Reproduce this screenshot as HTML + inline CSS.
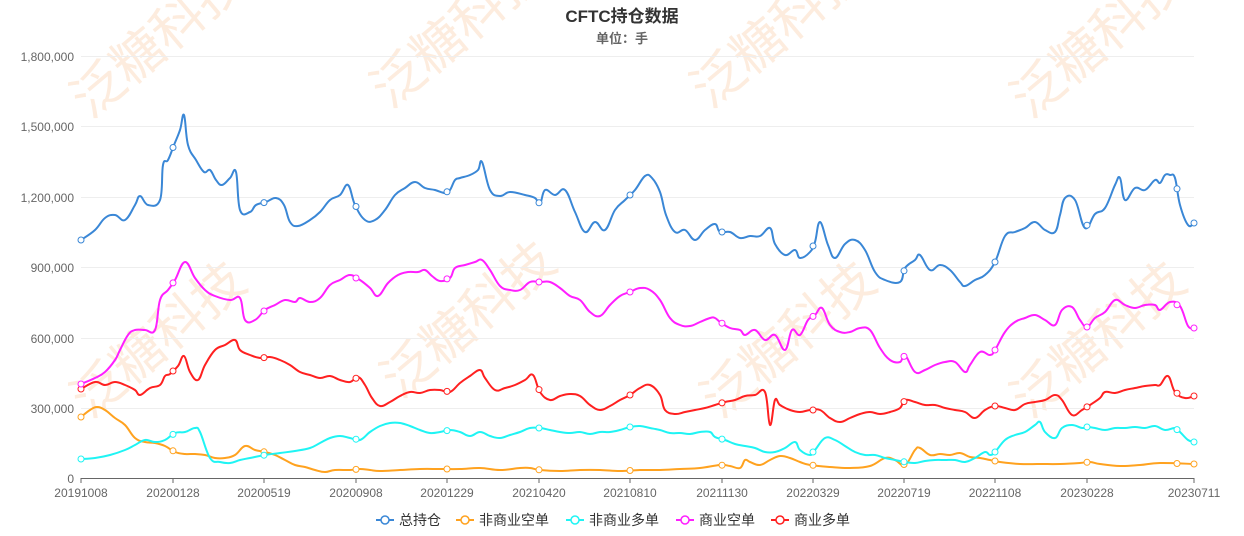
<!DOCTYPE html>
<html><head><meta charset="utf-8"><style>
body{margin:0;background:#fff;}
svg{display:block;font-family:"Liberation Sans","Noto Sans CJK SC",sans-serif;}
</style></head><body>
<svg id="s" width="1244" height="536" viewBox="0 0 1244 536">
<g fill="#f9c9a0" opacity="0.35" font-size="52" font-family="'Noto Sans CJK SC',sans-serif">
<text transform="translate(90,120) rotate(-40)">泛糖科技</text>
<text transform="translate(390,110) rotate(-40)">泛糖科技</text>
<text transform="translate(710,110) rotate(-40)">泛糖科技</text>
<text transform="translate(1030,120) rotate(-40)">泛糖科技</text>
<text transform="translate(90,420) rotate(-40)">泛糖科技</text>
<text transform="translate(400,400) rotate(-40)">泛糖科技</text>
<text transform="translate(720,420) rotate(-40)">泛糖科技</text>
<text transform="translate(1030,420) rotate(-40)">泛糖科技</text>
</g>
<text x="622" y="22" text-anchor="middle" font-size="17" font-weight="bold" fill="#333">CFTC持仓数据</text>
<text x="622" y="43" text-anchor="middle" font-size="13" font-weight="bold" fill="#666">单位：手</text>
<g stroke="#eee" stroke-width="1">
<line x1="81" x2="1194" y1="56.5" y2="56.5"/><line x1="81" x2="1194" y1="126.5" y2="126.5"/><line x1="81" x2="1194" y1="197.5" y2="197.5"/><line x1="81" x2="1194" y1="267.5" y2="267.5"/><line x1="81" x2="1194" y1="338.5" y2="338.5"/><line x1="81" x2="1194" y1="408.5" y2="408.5"/>
</g>
<line x1="81" x2="1194" y1="478.5" y2="478.5" stroke="#666"/>
<g font-size="12" fill="#666" text-anchor="end">
<text x="74" y="61">1,800,000</text><text x="74" y="131">1,500,000</text><text x="74" y="202">1,200,000</text><text x="74" y="272">900,000</text><text x="74" y="343">600,000</text><text x="74" y="413">300,000</text><text x="74" y="483">0</text>
</g>
<g id="xl" font-size="12" fill="#666" text-anchor="middle"></g>
<g id="series"></g>
<g font-size="14" fill="#333" id="leg"></g>
</svg>
<script>
const NS="http://www.w3.org/2000/svg";
const ticks=[[81,"20191008"],[173,"20200128"],[264,"20200519"],[356,"20200908"],[447,"20201229"],[539,"20210420"],[630,"20210810"],[722,"20211130"],[813,"20220329"],[904,"20220719"],[995,"20221108"],[1087,"20230228"],[1194,"20230711"]];
const xl=document.getElementById("xl");
ticks.forEach(t=>{const e=document.createElementNS(NS,"text");e.setAttribute("x",t[0]);e.setAttribute("y",497);e.textContent=t[1];xl.appendChild(e);
const l=document.createElementNS(NS,"line");l.setAttribute("x1",t[0]);l.setAttribute("x2",t[0]);l.setAttribute("y1",478);l.setAttribute("y2",483);l.setAttribute("stroke","#666");xl.appendChild(l);});
function P(s){const a=s.trim().split(/;\s*/).map(p=>p.split(",").map(Number));return a;}
const data={
"#3a87d6":P("81,240;95,230;105,218;115,215;125,220;135,205;140,196;148,205;160,200;163,165;168,160;174,145;180,130;184,115;188,145;196,160;204,172;210,170;216,180;222,185;230,178;236,172;240,210;250,212;256,205;266,202;276,198;284,205;290,222;298,226;310,220;320,212;330,200;340,195;348,185;355,205;365,220;375,220;385,210;395,195;405,188;415,182;425,188;435,190;445,193;450,190;455,180;460,178;470,175;478,170;482,162;490,190;500,196;510,192;525,195;535,198;540,204;545,190;555,195;565,190;575,212;585,232;595,222;605,230;615,210;625,200;635,190;645,176;652,178;660,192;666,215;675,232;685,230;695,240;705,230;715,224;720,232;730,232;740,238;750,236;760,236;770,228;775,244;785,255;795,250;800,258;810,252;815,242;820,222;828,245;835,258;845,244;855,240;865,250;875,272;885,280;900,282;905,268;915,260;920,255;930,270;940,265;950,270;960,282;965,286;975,280;985,275;995,262;1005,236;1015,232;1025,228;1035,222;1045,230;1055,232;1060,215;1065,198;1075,200;1085,228;1095,214;1105,208;1115,185;1120,178;1125,200;1135,188;1145,190;1155,180;1160,183;1165,175;1170,175;1175,178;1180,205;1188,225;1194,223"),
"#ffa21f":P("81,417;90,410;97,407;105,410;115,418;125,425;135,438;145,442;155,443;165,446;175,452;185,454;195,454;205,455;215,458;225,458;235,455;245,446;255,450;265,452;275,455;285,460;295,465;305,467;315,470;325,472;335,470;350,470;360,469;370,470;380,471;400,470;420,469;440,469;460,469;480,468;500,470;520,468;530,468;540,470;560,471;580,470;600,470;620,471;640,470;660,470;680,469;700,468;720,465;730,466;740,468;745,460;750,462;760,465;770,460;780,456;790,458;800,462;810,465;830,467;850,468;870,466;885,458;895,460;905,465;915,450;920,448;930,455;940,454;950,455;960,453;970,457;980,458;990,460;1000,462;1020,464;1040,464;1060,464;1080,463;1090,462;1100,464;1120,466;1140,465;1160,463;1194,464"),
"#1ff4f4":P("81,459;95,458;110,455;125,450;135,445;145,440;155,442;165,440;175,433;185,432;195,428;200,432;210,458;220,462;230,463;240,460;250,458;265,455;280,453;295,451;310,448;320,443;330,438;340,436;350,438;360,440;370,432;380,426;390,423;400,423;410,426;420,430;430,433;440,432;450,430;460,432;470,436;480,432;490,436;500,438;510,435;520,432;530,428;540,428;550,430;560,432;570,433;580,432;590,434;600,432;610,432;620,430;630,427;640,426;650,428;660,430;670,433;680,433;690,434;700,432;710,432;715,437;725,440;735,444;745,446;755,448;765,452;775,452;785,448;795,442;800,450;810,455;815,450;825,438;835,440;845,446;855,452;865,455;875,455;885,458;895,460;905,462;915,463;925,461;935,460;945,460;955,460;965,462;975,458;985,452;990,455;995,452;1005,440;1015,435;1025,432;1035,425;1040,422;1045,432;1055,438;1062,428;1072,425;1082,428;1087,427;1095,428;1105,430;1115,428;1125,428;1135,427;1145,428;1155,426;1165,430;1175,428;1180,432;1188,440;1194,442"),
"#ff1fff":P("81,384;95,378;105,372;115,360;120,350;128,335;135,330;145,330;155,330;160,300;168,290;175,280;185,262;195,278;205,290;215,296;230,300;240,298;245,320;255,320;265,310;275,305;285,300;295,302;300,298;310,302;320,298;330,285;340,280;350,275;360,280;370,288;378,296;388,283;398,275;408,272;418,272;425,270;432,276;440,281;450,278;455,268;465,265;475,262;482,260;490,270;500,286;510,290;520,290;530,282;540,282;550,282;560,288;570,296;580,300;590,312;600,316;610,305;620,296;630,292;640,288;650,290;660,300;670,318;680,325;690,326;700,322;710,318;715,318;720,322;730,328;740,330;745,335;755,330;765,340;775,335;785,350;792,330;800,335;808,320;815,315;822,308;830,325;840,332;850,332;860,328;870,330;880,348;890,360;900,362;905,355;915,372;925,370;935,365;945,362;955,362;965,372;970,365;980,352;990,355;995,350;1005,332;1015,322;1025,318;1035,315;1045,320;1055,325;1062,310;1072,307;1080,320;1087,327;1095,318;1105,312;1115,300;1125,305;1135,308;1145,305;1155,305;1160,310;1170,302;1180,306;1188,326;1194,328"),
"#ff2020":P("81,389;95,382;105,385;115,382;125,385;135,390;140,395;150,388;160,385;165,376;170,374;178,366;184,356;190,372;198,380;205,365;215,350;225,345;235,340;240,350;250,355;260,358;270,357;280,360;290,365;300,372;310,375;320,378;330,376;340,380;350,382;358,377;365,385;372,398;380,406;390,402;400,396;410,392;420,393;430,390;440,390;450,392;460,383;470,376;480,370;485,378;495,390;505,388;515,385;525,380;533,375;540,392;550,400;560,396;570,394;580,396;590,405;600,410;610,406;620,400;630,395;640,388;650,385;660,395;665,410;675,414;685,412;695,410;705,408;715,405;725,402;735,400;745,396;755,395;765,392;770,425;775,400;780,405;790,410;800,412;810,410;820,410;830,418;840,422;850,418;860,414;870,412;880,414;890,412;900,408;905,400;915,402;925,405;935,405;945,408;955,410;965,412;975,418;985,410;995,406;1005,408;1015,410;1025,404;1035,402;1045,400;1055,395;1062,400;1072,415;1082,410;1090,405;1100,398;1105,392;1115,393;1125,390;1135,388;1145,386;1155,385;1160,385;1168,376;1175,392;1185,398;1194,396")};
const order=["#ffa21f","#1ff4f4","#ff2020","#ff1fff","#3a87d6"];
const sg=document.getElementById("series");
function smooth(p){let d="M"+p[0][0]+","+p[0][1];for(let i=0;i<p.length-1;i++){const p0=p[i-1]||p[i],p1=p[i],p2=p[i+1],p3=p[i+2]||p2;const t=0.2;
d+=` C${p1[0]+(p2[0]-p0[0])*t},${p1[1]+(p2[1]-p0[1])*t} ${p2[0]-(p3[0]-p1[0])*t},${p2[1]-(p3[1]-p1[1])*t} ${p2[0]},${p2[1]}`;}return d;}
function yAt(p,x){for(let i=0;i<p.length-1;i++){if(x>=p[i][0]&&x<=p[i+1][0]){const f=(x-p[i][0])/(p[i+1][0]-p[i][0]||1);return p[i][1]+f*(p[i+1][1]-p[i][1]);}}return p[p.length-1][1];}
const mx=[81,173,264,356,447,539,630,722,813,904,995,1087,1177,1194];
order.forEach(c=>{const p=data[c];const e=document.createElementNS(NS,"path");e.setAttribute("d",smooth(p));e.setAttribute("fill","none");e.setAttribute("stroke",c);e.setAttribute("stroke-width","2");sg.appendChild(e);
mx.forEach(x=>{const m=document.createElementNS(NS,"circle");m.setAttribute("cx",x);m.setAttribute("cy",yAt(p,x));m.setAttribute("r",3);m.setAttribute("fill","#fff");m.setAttribute("stroke",c);sg.appendChild(m);});});
const leg=[["#3a87d6","总持仓",376],["#ffa21f","非商业空单",456],["#1ff4f4","非商业多单",566],["#ff1fff","商业空单",676],["#ff2020","商业多单",771]];
const lg=document.getElementById("leg");
leg.forEach(l=>{const x=l[2];lg.insertAdjacentHTML("beforeend",`<line x1="${x}" x2="${x+18}" y1="520" y2="520" stroke="${l[0]}" stroke-width="2"/><circle cx="${x+9}" cy="520" r="4" fill="#fff" stroke="${l[0]}" stroke-width="1.5"/><text x="${x+23}" y="525">${l[1]}</text>`);});
</script>
</body></html>
